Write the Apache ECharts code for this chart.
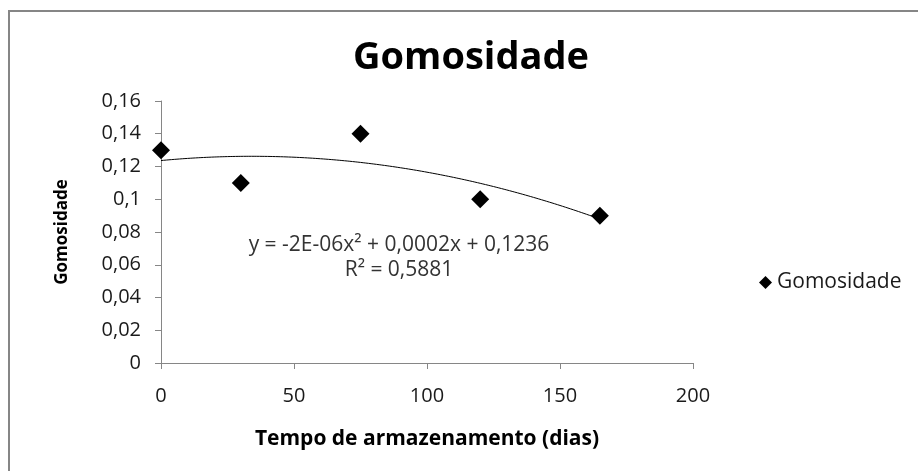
<!DOCTYPE html>
<html>
<head>
<meta charset="utf-8">
<script src="https://cdn.jsdelivr.net/npm/echarts@6/dist/echarts.min.js"></script>
<style>
  html, body { margin: 0; padding: 0; background: #fff; }
  #chart { width: 918px; height: 471px; }
</style>
</head>
<body>
<div id="chart"></div>
<script>
// Storage time (days) and gumminess measurements
const storageDays = [0, 30, 75, 120, 165];
const gumminess = [0.13, 0.11, 0.14, 0.10, 0.09];
const yTicks = [0, 0.02, 0.04, 0.06, 0.08, 0.1, 0.12, 0.14, 0.16];
const xTicks = [0, 50, 100, 150, 200];
const seriesName = 'Gomosidade';
const equationText = 'y = -2E-06x² + 0,0002x + 0,1236';
const r2Text = 'R² = 0,5881';

// Second-order least-squares trendline through the measured points
function quadFit(xs, ys) {
  const n = xs.length;
  const s = [0, 0, 0, 0, 0], t = [0, 0, 0];
  for (let i = 0; i < n; i++) {
    let p = 1;
    for (let k = 0; k <= 4; k++) { s[k] += p; if (k <= 2) t[k] += p * ys[i]; p *= xs[i]; }
  }
  // normal equations for c + b x + a x^2
  const M = [[s[0], s[1], s[2], t[0]], [s[1], s[2], s[3], t[1]], [s[2], s[3], s[4], t[2]]];
  for (let c = 0; c < 3; c++) {
    for (let r = c + 1; r < 3; r++) {
      const f = M[r][c] / M[c][c];
      for (let k = c; k < 4; k++) M[r][k] -= f * M[c][k];
    }
  }
  const sol = [0, 0, 0];
  for (let r = 2; r >= 0; r--) {
    let v = M[r][3];
    for (let k = r + 1; k < 3; k++) v -= M[r][k] * sol[k];
    sol[r] = v / M[r][r];
  }
  return sol; // [c, b, a]
}
const [c0, c1, c2] = quadFit(storageDays, gumminess);
const xMin = Math.min(...storageDays), xMax = Math.max(...storageDays);
const trend = [];
for (let x = xMin; x <= xMax; x += 1) trend.push([x, c0 + c1 * x + c2 * x * x]);

const FONT = 'Open Sans';
const axisGray = '#868686';
const textColor = '#1a1a1a';
const comma = v => String(v).replace('.', ',');

const chart = echarts.init(document.getElementById('chart'), null, { renderer: 'canvas' });
chart.setOption({
  animation: false,
  backgroundColor: '#fff',
  textStyle: { fontFamily: FONT },
  title: {
    text: 'Gomosidade',
    left: 466, top: 34,
    textAlign: 'center',
    textStyle: { fontFamily: FONT, fontWeight: 'bold', fontSize: 38, color: '#000' }
  },
  legend: {
    data: [{ name: seriesName, icon: 'diamond' }],
    left: 754, top: 267,
    itemWidth: 13, itemHeight: 13, itemGap: 4,
    textStyle: { fontFamily: FONT, fontSize: 21, color: textColor }
  },
  grid: { left: 161, right: 918 - 693, top: 101, bottom: 471 - 363, containLabel: false },
  xAxis: {
    type: 'value',
    min: xTicks[0], max: xTicks[xTicks.length - 1], interval: 50,
    name: 'Tempo de armazenamento (dias)',
    nameLocation: 'middle', nameGap: 66,
    nameTextStyle: { fontFamily: FONT, fontWeight: 'bold', fontSize: 21, color: '#000' },
    axisLine: { lineStyle: { color: axisGray, width: 1 } },
    axisTick: { show: true, length: 6, inside: false, lineStyle: { color: axisGray } },
    axisLabel: { fontFamily: FONT, fontSize: 20, color: textColor, margin: 23 },
    splitLine: { show: false }
  },
  yAxis: {
    type: 'value',
    min: yTicks[0], max: yTicks[yTicks.length - 1], interval: 0.02,
    name: 'Gomosidade',
    nameLocation: 'middle', nameGap: 90,
    nameTextStyle: { fontFamily: FONT, fontWeight: 'bold', fontSize: 17, color: '#000' },
    axisLine: { show: true, lineStyle: { color: axisGray, width: 1 } },
    axisTick: { show: true, length: 6, lineStyle: { color: axisGray } },
    axisLabel: { fontFamily: FONT, fontSize: 20, color: textColor, margin: 20, formatter: v => comma(+v.toFixed(2)) },
    splitLine: { show: false }
  },
  graphic: [
    {
      type: 'rect', silent: true, z: -1,
      shape: { x: 9, y: 11, width: 940, height: 500 },
      style: { fill: 'none', stroke: axisGray, lineWidth: 2 }
    },
    {
      type: 'text', silent: true, x: 399, y: 245,
      style: { text: equationText, fontFamily: FONT, fontSize: 21, fill: '#333', align: 'center', verticalAlign: 'middle' }
    },
    {
      type: 'text', silent: true, x: 399, y: 270,
      style: { text: r2Text, fontFamily: FONT, fontSize: 21, fill: '#333', align: 'center', verticalAlign: 'middle' }
    }
  ],
  series: [
    {
      name: 'trend', type: 'line', data: trend, showSymbol: false, symbol: 'none',
      lineStyle: { color: '#000', width: 1 }, silent: true, z: 1
    },
    {
      name: seriesName, type: 'scatter',
      data: storageDays.map((x, i) => [x, gumminess[i]]),
      symbol: 'diamond', symbolSize: 18,
      itemStyle: { color: '#000', opacity: 1 }, z: 3
    }
  ]
});
</script>
</body>
</html>
